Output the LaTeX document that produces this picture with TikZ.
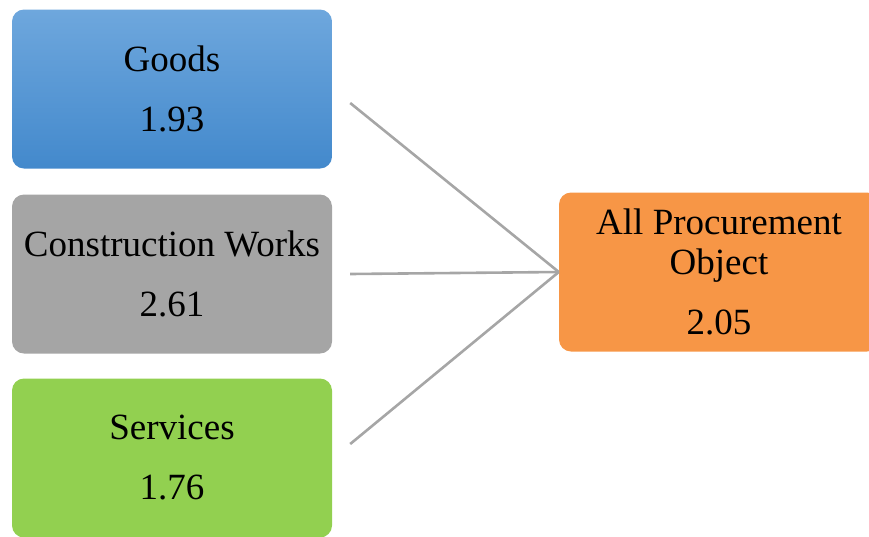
\documentclass[tikz,border=0pt]{standalone}
\usepackage{fontspec}
\setmainfont{Liberation Serif}
\definecolor{bluetop}{HTML}{6EA7DD}
\definecolor{bluebot}{HTML}{4389CC}
\definecolor{boxgray}{HTML}{A5A5A5}
\definecolor{boxgreen}{HTML}{92D050}
\definecolor{boxorange}{HTML}{F79646}
\definecolor{linegray}{HTML}{A6A6A6}
\tikzset{
  catbox/.style={rectangle, rounded corners=12pt, minimum width=320pt, minimum height=159pt,
    inner sep=0pt, align=center, font=\fontsize{37}{60}\selectfont, draw=none},
  conn/.style={draw=linegray, line width=2.6pt}
}
\begin{document}
\begin{tikzpicture}[x=1pt,y=-1pt]
\useasboundingbox (0,0) rectangle (869,536);
\clip (0,0) rectangle (869,536);
\node[catbox, top color=bluetop, bottom color=bluebot] (goods) at (172,89) {Goods\\1.93};
\node[catbox, fill=boxgray] (works) at (172,274) {Construction Works\\2.61};
\node[catbox, fill=boxgreen] (services) at (172,458) {Services\\1.76};
\node[catbox, fill=boxorange, font=\fontsize{37}{40}\selectfont] (all) at (719,272) {All Procurement\\Object\\[20pt]2.05};
\draw[conn] ([shift={(18,14)}]goods.east) -- (all.west);
\draw[conn] ([shift={(18,0)}]works.east) -- (all.west);
\draw[conn] ([shift={(18,-14)}]services.east) -- (all.west);
\end{tikzpicture}
\end{document}
